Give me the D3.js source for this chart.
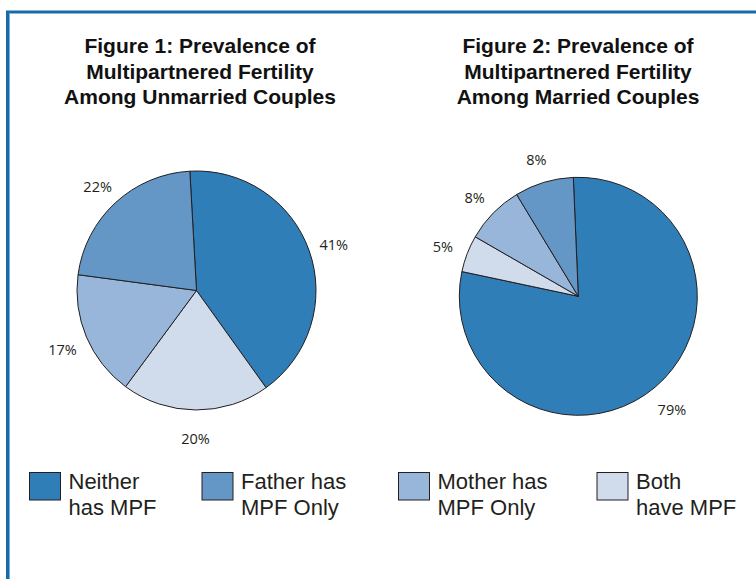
<!DOCTYPE html>
<html>
<head>
<meta charset="utf-8">
<script src="https://cdn.jsdelivr.net/npm/d3@7"></script>
<style>
  html, body { margin: 0; padding: 0; background: #fff; }
  svg { display: block; }
</style>
</head>
<body>
<svg id="chart" width="756" height="579"></svg>
<script>
// ---- data ----
const categories = ["Neither has MPF", "Father has MPF Only", "Mother has MPF Only", "Both have MPF"];
const legendLines = [["Neither", "has MPF"], ["Father has", "MPF Only"], ["Mother has", "MPF Only"], ["Both", "have MPF"]];
const unmarriedValues = [41, 22, 17, 20];
const marriedValues = [79, 8, 8, 5];
const colors = ["#2f7eb8", "#6497c6", "#98b6da", "#d0dcec"];
const drawOrder = [0, 3, 2, 1]; // clockwise order of slices
const titles1 = ["Figure 1: Prevalence of", "Multipartnered Fertility", "Among Unmarried Couples"];
const titles2 = ["Figure 2: Prevalence of", "Multipartnered Fertility", "Among Married Couples"];

const svg = d3.select("#chart");

// frame
svg.append("line").attr("x1", 6).attr("x2", 756).attr("y1", 12).attr("y2", 12)
  .attr("stroke", "#1a6aa8").attr("stroke-width", 3);
svg.append("line").attr("x1", 7.5).attr("x2", 7.5).attr("y1", 11).attr("y2", 579)
  .attr("stroke", "#1a6aa8").attr("stroke-width", 3);
svg.append("line").attr("x1", 9.5).attr("x2", 9.5).attr("y1", 13.5).attr("y2", 579)
  .attr("stroke", "#6fb0e0").attr("stroke-width", 1);

function drawPie(values, cx, cy, r, startDeg, titleLines, titleX) {
  const g = svg.append("g").attr("transform", `translate(${cx},${cy})`);
  const items = drawOrder.map(i => ({ key: i, value: values[i] }));
  const start = startDeg * Math.PI / 180;
  const pie = d3.pie().value(d => d.value).sort(null)
    .startAngle(start).endAngle(start + 2 * Math.PI);
  const arcs = pie(items);
  const arc = d3.arc().innerRadius(0).outerRadius(r);
  const labelArc = d3.arc().innerRadius(r + 26).outerRadius(r + 26);
  g.selectAll("path.slice").data(arcs).join("path")
    .attr("class", "slice")
    .attr("d", arc)
    .attr("fill", d => colors[d.data.key])
    .attr("stroke", "#231f20")
    .attr("stroke-width", 1)
    .attr("stroke-linejoin", "round");
  g.selectAll("text.lbl").data(arcs).join("text")
    .attr("class", "lbl")
    .attr("transform", d => `translate(${labelArc.centroid(d)})`)
    .attr("text-anchor", "middle")
    .attr("dy", "0.55em")
    .attr("font-family", "'Open Sans', 'DejaVu Sans', sans-serif")
    .attr("font-size", 14.5)
    .attr("fill", "#231f20")
    .text(d => d.data.value + "%");

  const t = svg.append("text")
    .attr("text-anchor", "middle")
    .attr("font-family", "'Liberation Sans', Arial, sans-serif")
    .attr("font-weight", "bold")
    .attr("font-size", 21)
    .attr("fill", "#111");
  titleLines.forEach((line, i) => {
    t.append("tspan").attr("x", titleX).attr("y", 53 + i * 25.5).text(line);
  });
}

drawPie(unmarriedValues, 196.5, 290.5, 119.5, -3.2, titles1, 200);
drawPie(marriedValues, 578.3, 296.3, 119, -2.4, titles2, 578);

// legend
const legendX = [29.5, 202, 398.5, 597];
const lg = svg.append("g");
categories.forEach((c, i) => {
  const gi = lg.append("g").attr("transform", `translate(${legendX[i]},472.5)`);
  gi.append("rect").attr("width", 31).attr("height", 27.5)
    .attr("fill", colors[i]).attr("stroke", "#231f20").attr("stroke-width", 1);
  const tx = gi.append("text")
    .attr("font-family", "'Liberation Sans', Arial, sans-serif")
    .attr("font-size", 22)
    .attr("fill", "#231f20");
  legendLines[i].forEach((l, j) => {
    tx.append("tspan").attr("x", 39).attr("y", 16 + j * 26.5).text(l);
  });
});
</script>
</body>
</html>
